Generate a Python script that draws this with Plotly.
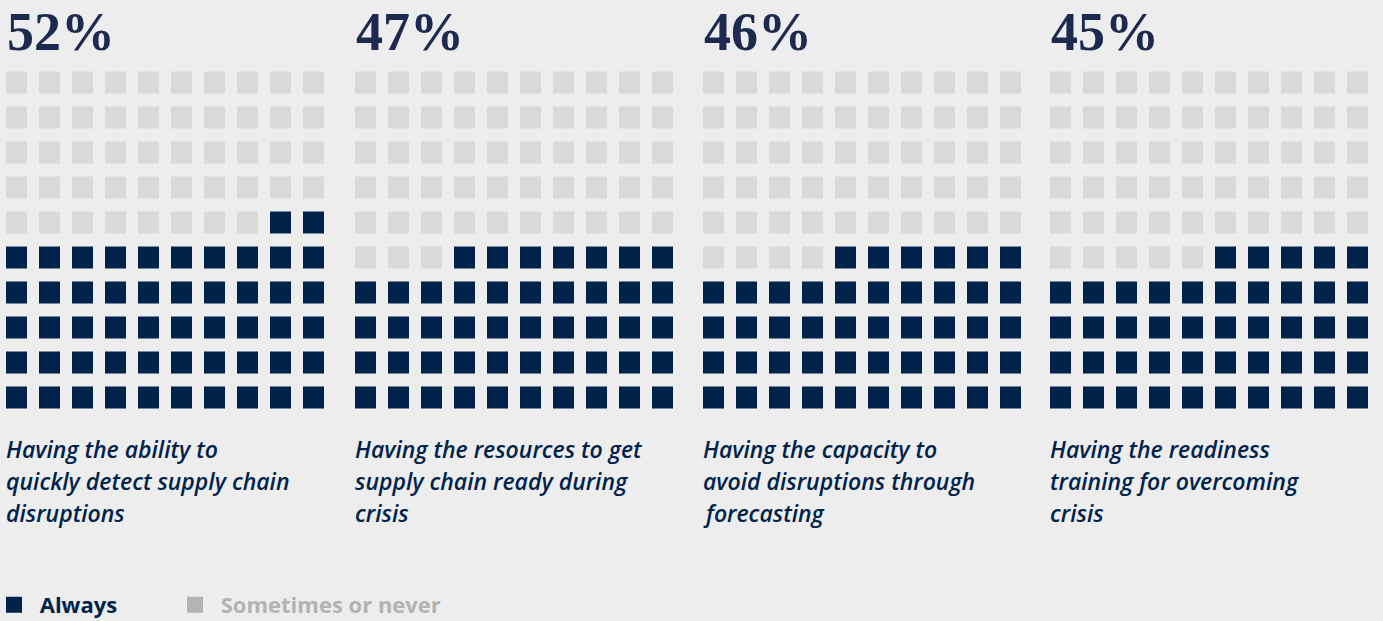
import plotly.graph_objects as go

# Survey results: share answering "Always" for each capability
percentages = [52, 47, 46, 45]
title_labels = ["52%", "47%", "46%", "45%"]
captions = [
    ["Having the ability to", "quickly detect supply chain", "disruptions"],
    ["Having the resources to get", "supply chain ready during", "crisis"],
    ["Having the capacity to", "avoid disruptions through", "forecasting"],
    ["Having the readiness", "training for overcoming", "crisis"],
]
legend_names = ["Always", "Sometimes or never"]

NAVY = "#00234b"
GREY = "#d9d9d9"
KEY_GREY = "#b3b3b3"
TITLE = "#1c2a50"
BG = "#ededed"

W, H = 1383, 621
GRID = 10

# panel placement in pixels (left edge of each 10x10 grid area)
panel_left = [0, 349, 697, 1044]
panel_w = 330
grid_top, grid_bottom = 65.5, 415.5
caption_rows = [449, 481, 513]


def waffle(pct):
    """10x10 matrix, row 0 = bottom; cells fill bottom-up, right-to-left."""
    z = []
    for r in range(GRID):
        row = []
        for c in range(GRID):
            idx = r * GRID + (GRID - 1 - c)
            row.append(1 if idx < pct else 0)
        z.append(row)
    return z


fig = go.Figure()
for i, pct in enumerate(percentages):
    ax = "" if i == 0 else str(i + 1)
    fig.add_trace(go.Heatmap(
        z=waffle(pct),
        x=list(range(GRID)),
        y=list(range(GRID)),
        xgap=12, ygap=13,
        zmin=0, zmax=1,
        colorscale=[[0, GREY], [0.5, GREY], [0.5, NAVY], [1, NAVY]],
        showscale=False,
        hoverinfo="skip",
        xaxis="x" + ax, yaxis="y" + ax,
    ))
    x0 = panel_left[i] / W
    x1 = (panel_left[i] + panel_w) / W
    axis_common = dict(visible=False, showgrid=False, zeroline=False, fixedrange=True)
    fig.layout["xaxis" + ax] = dict(domain=[x0, x1], range=[-0.5, GRID - 0.5],
                                    anchor="y" + ax, **axis_common)
    fig.layout["yaxis" + ax] = dict(domain=[1 - grid_bottom / H, 1 - grid_top / H],
                                    range=[-0.5, GRID - 0.5], anchor="x" + ax,
                                    **axis_common)

    # big percentage heading
    fig.add_annotation(
        x=(panel_left[i] + 5) / W, y=1 - 31.5 / H, xref="paper", yref="paper",
        xanchor="left", yanchor="middle", showarrow=False,
        text="<b>" + title_labels[i] + "</b>",
        font=dict(family="Liberation Serif", size=54, color=TITLE),
    )
    # caption under each grid, one annotation per line
    for line, ypix in zip(captions[i], caption_rows):
        fig.add_annotation(
            x=(panel_left[i] + 4) / W, y=1 - ypix / H, xref="paper", yref="paper",
            xanchor="left", yanchor="middle", align="left", showarrow=False,
            text="<i>" + line + "</i>",
            font=dict(family="Open Sans", size=23, color=NAVY, weight=600),
        )

# legend entries, each in its own legend box
legend_x = [-6, 175]
for k, (name, color) in enumerate(zip(legend_names, [NAVY, KEY_GREY])):
    lg = "legend" if k == 0 else "legend2"
    fig.add_trace(go.Scatter(
        x=[None], y=[None], mode="markers", name="&nbsp;<b>" + name + "</b>",
        marker=dict(symbol="square", size=16, color=color),
        showlegend=True, hoverinfo="skip", legend=lg,
    ))
    fig.layout[lg] = dict(
        orientation="h", x=legend_x[k] / W, y=-0.008, xanchor="left", yanchor="bottom",
        bgcolor="rgba(0,0,0,0)", borderwidth=0, itemsizing="trace",
        font=dict(family="Open Sans", size=22, color=color),
    )

fig.update_layout(
    width=W, height=H,
    margin=dict(l=0, r=0, t=0, b=0, autoexpand=False),
    paper_bgcolor=BG, plot_bgcolor=BG,
    showlegend=True,
)

fig.write_html("out.html", config={"displayModeBar": False})
